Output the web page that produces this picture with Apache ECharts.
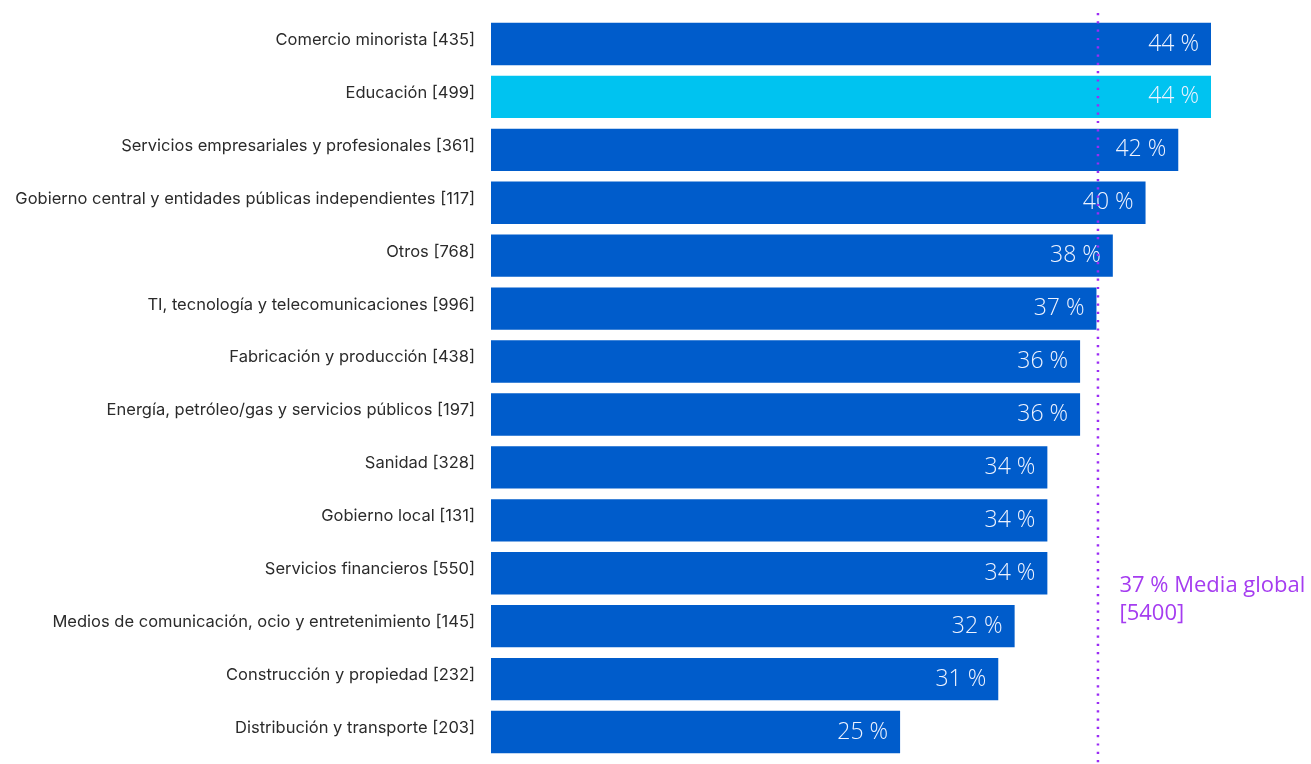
<!DOCTYPE html>
<html>
<head>
<meta charset="utf-8">
<style>
  html, body { margin: 0; padding: 0; background: #ffffff; }
  #chart { width: 1311px; height: 764px; }
</style>
<script src="https://cdn.jsdelivr.net/npm/echarts@6/dist/echarts.min.js"></script>
</head>
<body>
<div id="chart"></div>
<script>
// Sectors, top to bottom
const sectors = [
  'Comercio minorista',
  'Educación',
  'Servicios empresariales y profesionales',
  'Gobierno central y entidades públicas independientes',
  'Otros',
  'TI, tecnología y telecomunicaciones',
  'Fabricación y producción',
  'Energía, petróleo/gas y servicios públicos',
  'Sanidad',
  'Gobierno local',
  'Servicios financieros',
  'Medios de comunicación, ocio y entretenimiento',
  'Construcción y propiedad',
  'Distribución y transporte'
];
// Respondents per sector
const respondents = [435, 499, 361, 117, 768, 996, 438, 197, 328, 131, 550, 145, 232, 203];
// Percentage per sector
const percentages = [44, 44, 42, 40, 38, 37, 36, 36, 34, 34, 34, 32, 31, 25];
// Highlighted sector
const highlight = 'Educación';
// Global average
const globalAverage = 37;
const globalRespondents = 5400;

const BAR = '#005ccb';
const BAR_HI = '#00c3f0';
const PURPLE = '#a53cf0';
const DOTS = '#9b2cf5';

const labels = sectors.map((s, i) => s + ' [' + respondents[i] + ']');
const seriesData = percentages.map((v, i) => ({
  value: v,
  itemStyle: { color: sectors[i] === highlight ? BAR_HI : BAR }
}));

const chart = echarts.init(document.getElementById('chart'));
chart.setOption({
  animation: false,
  grid: {
    left: 491, right: 100, top: 17.5, bottom: 5.5,
    containLabel: false, outerBoundsMode: 'none'
  },
  xAxis: {
    type: 'value', min: 0, max: 44, show: false
  },
  yAxis: {
    type: 'category',
    inverse: true,
    data: labels,
    axisLine: { show: false },
    axisTick: { show: false },
    axisLabel: {
      margin: 16,
      formatter: v => '{t|' + v + '}',
      rich: {
        t: {
          color: '#2b2b2b',
          fontSize: 16.5,
          padding: [0, 0, 8, 0],
          fontFamily: 'Inter, "Noto Sans", sans-serif'
        }
      }
    }
  },
  series: [{
    type: 'bar',
    data: seriesData,
    barCategoryGap: '20%',
    label: {
      show: true,
      position: 'insideRight',
      distance: 12,
      formatter: p => p.value + ' %',
      color: '#eef3ff',
      fontSize: 23,
      fontWeight: 300,
      fontFamily: '"Open Sans", Lato, sans-serif'
    }
  }]
});

// Dotted average line and its caption, placed through the value axis
const x = chart.convertToPixel({ xAxisIndex: 0 }, globalAverage);
chart.setOption({
  graphic: [
    {
      type: 'line',
      shape: { x1: x + 1.5, y1: 13, x2: x + 1.5, y2: 764 },
      style: { stroke: DOTS, lineWidth: 2.5, lineDash: [2.2, 6.1] },
      z: 10
    },
    {
      type: 'text',
      left: x + 23,
      top: 572,
      style: {
        text: globalAverage + ' % Media global\n[' + globalRespondents + ']',
        fill: PURPLE,
        fontSize: 22,
        lineHeight: 28,
        fontFamily: '"Open Sans", Lato, sans-serif'
      },
      z: 10
    }
  ]
});
</script>
</body>
</html>
